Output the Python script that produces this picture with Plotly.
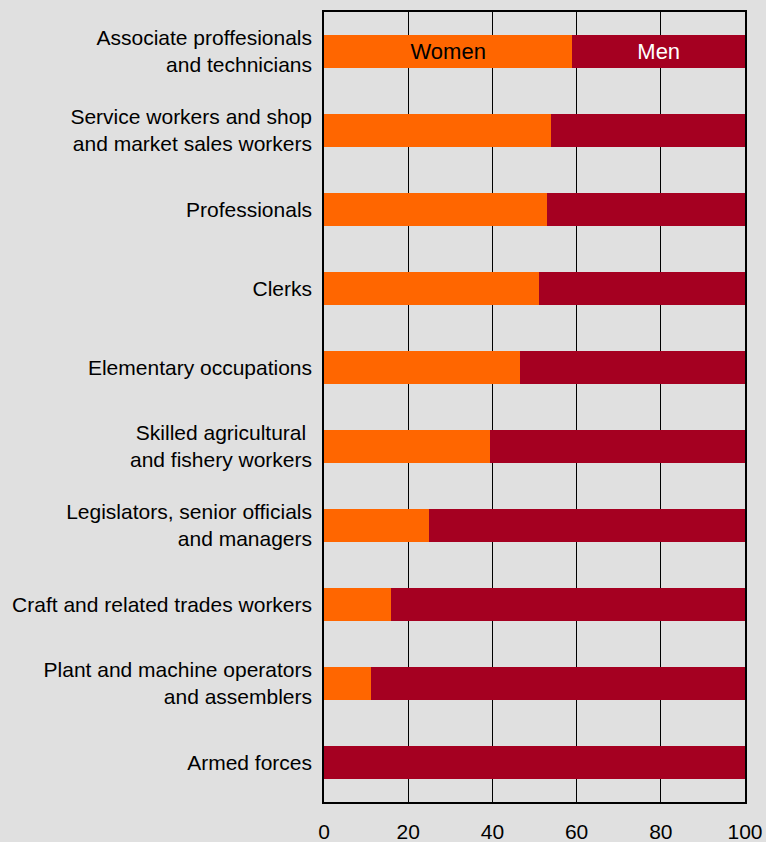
import plotly.graph_objects as go

# occupations, top to bottom as drawn
occupations = [
    "Associate proffesionals<br>and technicians",
    "Service workers and shop<br>and market sales workers",
    "Professionals",
    "Clerks",
    "Elementary occupations",
    "Skilled agricultural\u00a0<br>and fishery workers",
    "Legislators, senior officials<br>and managers",
    "Craft and related trades workers",
    "Plant and machine operators<br>and assemblers",
    "Armed forces",
]
women = [59, 54, 53, 51, 46.5, 39.5, 25, 16, 11.2, 0]
men = [100 - w for w in women]
women_text = ["Women"] + [""] * (len(occupations) - 1)
men_text = ["Men"] + [""] * (len(occupations) - 1)

FONT = "Liberation Sans, Arial, sans-serif"
BG = "#e0e0e0"

fig = go.Figure()
fig.add_trace(go.Bar(y=occupations, x=women, orientation="h", name="Women",
                     marker=dict(color="#ff6600", line_width=0), width=0.41,
                     text=women_text, textposition="inside", insidetextanchor="middle",
                     constraintext="none",
                     textfont=dict(family=FONT, size=22, color="#000000")))
fig.add_trace(go.Bar(y=occupations, x=men, orientation="h", name="Men",
                     marker=dict(color="#a50021", line_width=0), width=0.41,
                     text=men_text, textposition="inside", insidetextanchor="middle",
                     constraintext="none",
                     textfont=dict(family=FONT, size=22, color="#ffffff")))

fig.update_layout(
    width=766, height=842, barmode="stack", showlegend=False,
    paper_bgcolor=BG, plot_bgcolor=BG,
    margin=dict(l=324, r=21, t=12, b=40),
    font=dict(family=FONT, size=21, color="#000000"),
)
fig.update_xaxes(range=[0, 100], tickvals=[0, 20, 40, 60, 80, 100], automargin=False,
                 showgrid=True, gridcolor="#000000", gridwidth=1, zeroline=False,
                 showline=True, linecolor="#000000", linewidth=1.5, mirror=True,
                 ticks="", ticklabelstandoff=10, tickfont=dict(size=21))
fig.update_yaxes(autorange="reversed", showgrid=False, zeroline=False, automargin=False,
                 showline=True, linecolor="#000000", linewidth=1.5, mirror=True,
                 ticks="", ticklabelstandoff=6, tickfont=dict(size=21))

# drop the page margin so the figure sits flush in the window
fig.write_html("out.html", config={"displayModeBar": False},
               post_script="document.body.style.margin='0';document.body.style.overflow='hidden';")
